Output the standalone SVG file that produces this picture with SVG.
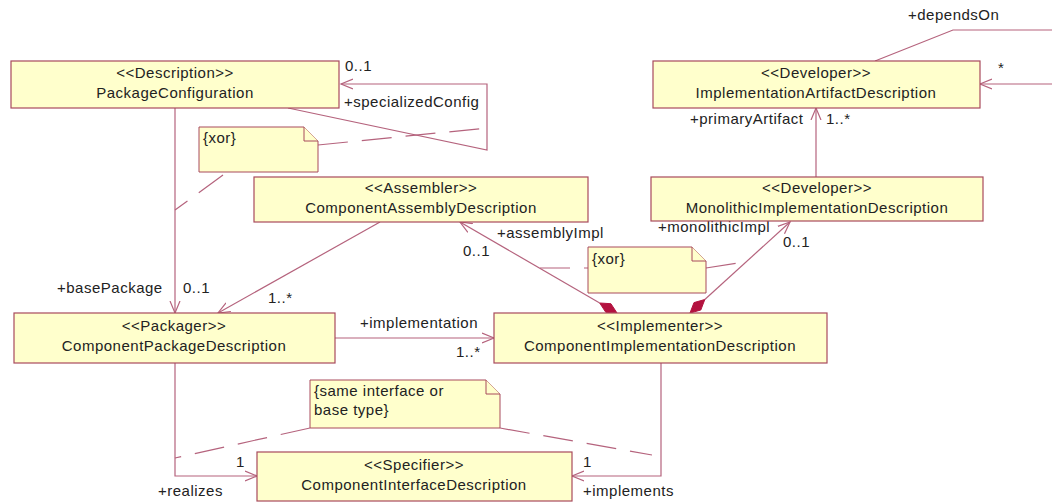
<svg xmlns="http://www.w3.org/2000/svg" width="1052" height="504" viewBox="0 0 1052 504">
<defs>
<style>
.box{fill:#ffffcc;stroke:#a84a5c;stroke-width:1.2}
.note{fill:#ffffcc;stroke:#a84a5c;stroke-width:1}
.t{font-family:"Liberation Sans",Arial,sans-serif;font-size:15px;fill:#222;letter-spacing:0.5px}
.c{text-anchor:middle}
.ln{fill:none;stroke:#b5637d;stroke-width:1.2}
.dash{fill:none;stroke:#b5637d;stroke-width:1.2;stroke-dasharray:30 14}
.dia{fill:#b3123f;stroke:#b3123f;stroke-width:1}
</style>
<marker id="arr" markerUnits="userSpaceOnUse" markerWidth="14" markerHeight="12" refX="12" refY="6" orient="auto">
<path d="M0,1 L12,6 L0,11" fill="none" stroke="#b5637d" stroke-width="1.2"/>
</marker>
</defs>
<rect width="1052" height="504" fill="#ffffff"/>

<g id="connectors">
<!-- PackageConfiguration self loop -->
<polyline class="ln" points="288,108 487,150 487,84 341,84" marker-end="url(#arr)"/>
<text class="t" x="345" y="71">0..1</text>
<text class="t" x="344" y="107">+specializedConfig</text>
<!-- xor note 1 dashes -->
<line class="dash" x1="318" y1="145" x2="487" y2="128"/>
<line class="dash" x1="223" y1="175" x2="175" y2="210"/>
<!-- basePackage -->
<line class="ln" x1="175" y1="108" x2="175" y2="313" marker-end="url(#arr)"/>
<text class="t" x="57" y="293">+basePackage</text>
<text class="t" x="183" y="293">0..1</text>
<!-- assembly to package -->
<line class="ln" x1="380" y1="222" x2="218" y2="313" marker-end="url(#arr)"/>
<text class="t" x="268" y="303">1..*</text>
<!-- implementation -->
<line class="ln" x1="335" y1="338" x2="494" y2="338" marker-end="url(#arr)"/>
<text class="t" x="360" y="328">+implementation</text>
<text class="t" x="456" y="357">1..*</text>
<!-- assemblyImpl -->
<path class="dia" d="M617,313 L610.9,303.7 L599.7,303 L605.8,312.3 Z"/>
<line class="ln" x1="599.7" y1="303" x2="460" y2="222" marker-end="url(#arr)"/>
<text class="t" x="497" y="238">+assemblyImpl</text>
<text class="t" x="463" y="256">0..1</text>
<!-- monolithicImpl -->
<path class="dia" d="M690,313 L700.8,310 L704.8,299.5 L694,302.6 Z"/>
<line class="ln" x1="704.8" y1="299.5" x2="790" y2="222" marker-end="url(#arr)"/>
<text class="t" x="658" y="232">+monolithicImpl</text>
<text class="t" x="783" y="247">0..1</text>
<!-- xor note 2 dashes -->
<line class="dash" x1="540" y1="268" x2="588" y2="268"/>
<line class="dash" x1="706" y1="268" x2="745" y2="262"/>
<!-- primaryArtifact -->
<line class="ln" x1="816" y1="177" x2="816" y2="108" marker-end="url(#arr)"/>
<text class="t" x="690" y="124">+primaryArtifact</text>
<text class="t" x="826" y="124">1..*</text>
<!-- dependsOn -->
<polyline class="ln" points="875,61 953,30 1052,30"/>
<polyline class="ln" points="1052,84 980,84" marker-end="url(#arr)"/>
<text class="t" x="908" y="20">+dependsOn</text>
<text class="t" x="998" y="73">*</text>
<!-- realizes -->
<polyline class="ln" points="175,363 175,476 257,476" marker-end="url(#arr)"/>
<text class="t" x="236" y="467">1</text>
<text class="t" x="158" y="496">+realizes</text>
<!-- implements -->
<polyline class="ln" points="661,363 661,476 572,476" marker-end="url(#arr)"/>
<text class="t" x="583" y="467">1</text>
<text class="t" x="583" y="496">+implements</text>
<!-- same interface note dashes -->
<line class="dash" x1="310" y1="428" x2="175" y2="458"/>
<line class="dash" x1="500" y1="428" x2="652" y2="455"/>
</g>

<g id="PackageConfiguration">
<rect class="box" x="11" y="61" width="328" height="47"/>
<text class="t c" x="175" y="78">&lt;&lt;Description&gt;&gt;</text>
<text class="t c" x="175" y="98">PackageConfiguration</text>
</g>

<g id="ImplementationArtifactDescription">
<rect class="box" x="653" y="61" width="327" height="47"/>
<text class="t c" x="816" y="78">&lt;&lt;Developer&gt;&gt;</text>
<text class="t c" x="816" y="98">ImplementationArtifactDescription</text>
</g>

<g id="ComponentAssemblyDescription">
<rect class="box" x="254" y="177" width="334" height="45"/>
<text class="t c" x="421" y="193">&lt;&lt;Assembler&gt;&gt;</text>
<text class="t c" x="421" y="213">ComponentAssemblyDescription</text>
</g>

<g id="MonolithicImplementationDescription">
<rect class="box" x="651" y="177" width="332" height="44"/>
<text class="t c" x="817" y="193">&lt;&lt;Developer&gt;&gt;</text>
<text class="t c" x="817" y="213">MonolithicImplementationDescription</text>
</g>

<g id="ComponentPackageDescription">
<rect class="box" x="14" y="313" width="321" height="50"/>
<text class="t c" x="174" y="331">&lt;&lt;Packager&gt;&gt;</text>
<text class="t c" x="174" y="351">ComponentPackageDescription</text>
</g>

<g id="ComponentImplementationDescription">
<rect class="box" x="494" y="313" width="333" height="50"/>
<text class="t c" x="660" y="331">&lt;&lt;Implementer&gt;&gt;</text>
<text class="t c" x="660" y="351">ComponentImplementationDescription</text>
</g>

<g id="ComponentInterfaceDescription">
<rect class="box" x="257" y="452" width="315" height="49"/>
<text class="t c" x="414" y="470">&lt;&lt;Specifier&gt;&gt;</text>
<text class="t c" x="414" y="490">ComponentInterfaceDescription</text>
</g>

<g id="note-xor-1">
<path class="note" d="M199,127 H304 L318,141 V172 H199 Z"/>
<path class="note" d="M304,127 V141 H318" fill="none"/>
<text class="t" x="203" y="143">{xor}</text>
</g>

<g id="note-xor-2">
<path class="note" d="M588,247 H692 L706,261 V293 H588 Z"/>
<path class="note" d="M692,247 V261 H706" fill="none"/>
<text class="t" x="592" y="264">{xor}</text>
</g>

<g id="note-same-interface">
<path class="note" d="M310,380 H486 L500,394 V428 H310 Z"/>
<path class="note" d="M486,380 V394 H500" fill="none"/>
<text class="t" x="314" y="396">{same interface or</text>
<text class="t" x="314" y="415">base type}</text>
</g>
</svg>
